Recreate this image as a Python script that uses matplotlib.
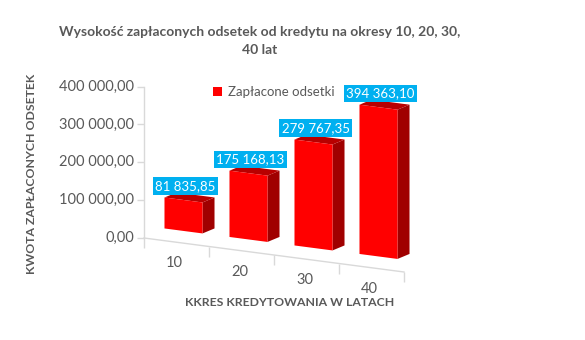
import numpy as np
import matplotlib
matplotlib.use("Agg")
import matplotlib.pyplot as plt
from matplotlib.patches import Polygon
from matplotlib.transforms import Affine2D, offset_copy

plt.rcParams['font.family'] = ['Lato', 'DejaVu Sans']

# dane: odsetki zaplacone dla okresow kredytowania
okresy = ['10', '20', '30', '40']
odsetki = [81835.85, 175168.13, 279767.35, 394363.10]
y_ticks = [0, 100000, 200000, 300000, 400000]

GRAY = '#595959'
LINE = '#D9D9D9'


def pln(v):
    # format polski: spacja tysiecy, przecinek dziesietny
    return f"{v:,.2f}".replace(',', ' ').replace('.', ',')


# rzut pseudo-3D: x w jednostkach kategorii, y w zlotowkach -> piksele
SLOT = 65.0       # szerokosc jednej kategorii
SLOPE = 8.5       # opadanie osi kategorii
SCALE = 0.3785e-3  # piksele na zlotowke
X0, Y0 = 144, 238
BAR_W = 0.585
DEPTH_PX = (12, -5)       # glebokosc slupka
RECESS_PX = (7, -11.3)    # slupki cofniete od krawedzi podlogi

proj = Affine2D(np.array([[SLOT, 0, X0], [SLOPE, -SCALE, Y0], [0, 0, 1]]))
DX = DEPTH_PX[0] / SLOT
DV = -(DEPTH_PX[1] - SLOPE * DX) / SCALE

fig = plt.figure(figsize=(5.85, 3.4), dpi=100)
ax = fig.add_axes([0, 0, 1, 1])
trans = proj + ax.transData
bar_tr = proj + Affine2D().translate(*RECESS_PX) + ax.transData

x = np.arange(len(odsetki)) + 0.5

# osie: pionowa i pozioma z kreskami
ax.plot([0, 0], [0, y_ticks[-1]], color=LINE, lw=1, transform=trans)
ax.plot([0, len(okresy)], [0, 0], color=LINE, lw=1, transform=trans)
ax.plot(np.zeros(len(y_ticks)), y_ticks, ls='none', marker=0, ms=5,
        mew=1, color=LINE, transform=trans)
ax.plot(np.arange(len(okresy) + 1), np.zeros(len(okresy) + 1), ls='none',
        marker=3, ms=7, mew=1, color=LINE, transform=trans)

lab_tr = offset_copy(trans, fig, x=-10, y=0, units='dots')
for t in y_ticks:
    ax.text(0, t, pln(t), transform=lab_tr, ha='right', va='center',
            fontsize=10.5, color=GRAY)

cat_tr = offset_copy(trans, fig, x=-2, y=-21, units='dots')
for xi, lab in zip(x, okresy):
    ax.text(xi, 0, lab, transform=cat_tr, ha='center', va='center',
            fontsize=10.5, color=GRAY)

# slupki: przod, bok, gora
ax.bar(x, odsetki, width=BAR_W, color='#FF0000', transform=bar_tr,
       label='Zapłacone odsetki', zorder=3)
for xi, v in zip(x, odsetki):
    xl, xr = xi - BAR_W / 2, xi + BAR_W / 2
    side = [(xr, 0), (xr, v), (xr + DX, v + DV), (xr + DX, DV)]
    top = [(xl, v), (xr, v), (xr + DX, v + DV), (xl + DX, v + DV)]
    ax.add_patch(Polygon(side, closed=True, fc='#A00000', ec='none',
                         transform=bar_tr, zorder=2))
    ax.add_patch(Polygon(top, closed=True, fc='#B80000', ec='none',
                         transform=bar_tr, zorder=2))

# etykiety wartosci
val_tr = offset_copy(bar_tr, fig, x=2, y=14, units='dots')
for xi, v in zip(x, odsetki):
    ax.text(xi, v, pln(v), transform=val_tr, ha='center', va='center',
            fontsize=9.5, color='white', zorder=5,
            bbox=dict(boxstyle='square,pad=0.2', fc='#00B0F0', ec='none'))

ax.set_xlim(0, 585)
ax.set_ylim(340, 0)
ax.axis('off')

ax.legend(loc='center left', bbox_to_anchor=(213 / 585, 1 - 92 / 340),
          bbox_transform=fig.transFigure, frameon=False, borderaxespad=0,
          borderpad=0, handlelength=0.7, handleheight=0.7, handletextpad=0.45,
          labelcolor=GRAY, prop={'size': 9.5})

fig.text(260 / 585, 1 - 41 / 340,
         'Wysokość zapłaconych odsetek od kredytu na okresy 10, 20, 30,\n40 lat',
         ha='center', va='center', fontsize=10, fontweight='bold', color=GRAY,
         linespacing=1.6)
fig.text(290 / 585, 1 - 302 / 340, 'KKRES KREDYTOWANIA W LATACH', ha='center',
         va='center', fontsize=8.8, fontweight='bold', color=GRAY)
fig.text(32 / 585, 1 - 174 / 340, 'KWOTA ZAPŁACONYCH ODSETEK', ha='center',
         va='center', rotation=90, fontsize=8.8, fontweight='bold', color=GRAY)

fig.savefig('out.png', dpi=100)
